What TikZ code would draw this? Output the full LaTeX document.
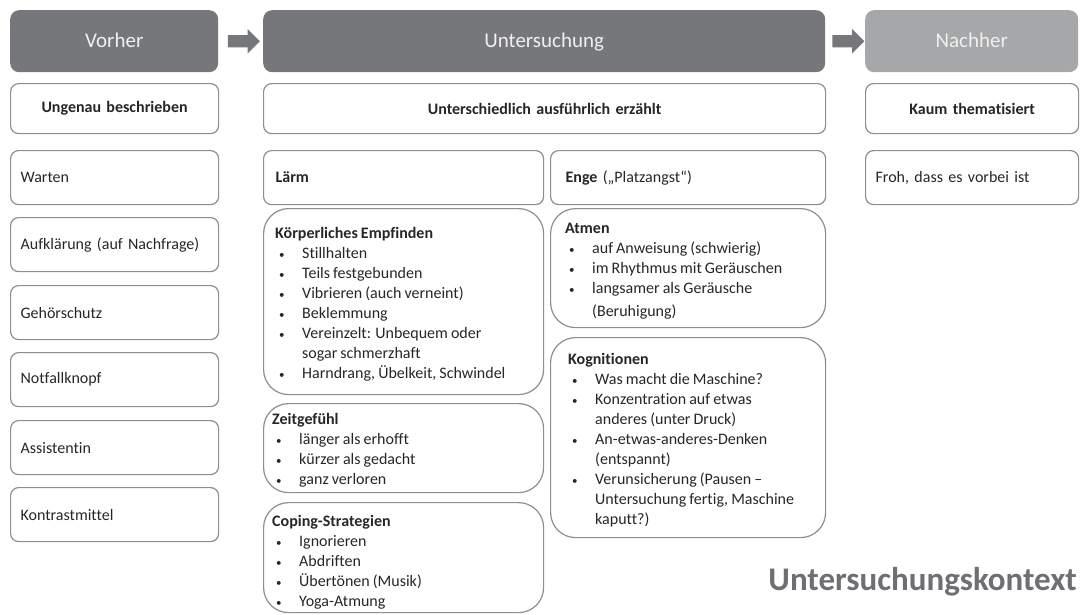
\documentclass[tikz,border=0pt]{standalone}
\usepackage{fontspec}
\setmainfont{Carlito}[Ligatures=NoCommon, WordSpace=0.85]
\usetikzlibrary{shapes.arrows,calc}

\definecolor{hdrdark}{HTML}{76777A}
\definecolor{hdrlight}{HTML}{A6A7A9}
\definecolor{rim}{HTML}{8E8E8E}
\definecolor{ink}{HTML}{262626}
\definecolor{kontext}{HTML}{6E6F72}

\newcommand{\bul}{\makebox[27pt][l]{\hspace{4pt}{\fontsize{11}{11}\selectfont\textbullet}}}
\newcommand{\bulgap}{\hspace*{27pt}}
\newcommand{\topstrut}{\rule{0pt}{14pt}}

\tikzset{
  hdr/.style={anchor=north west, fill=hdrdark, rounded corners=9pt, minimum height=62pt,
    text=white!88!gray, font=\fontsize{21}{25}\selectfont, inner sep=0pt, text height=14pt, text depth=0.5pt},
  cell/.style={anchor=north west, draw=rim, line width=1.2pt, rounded corners=8pt, text=ink,
    font=\fontsize{16}{20}\selectfont, inner xsep=10pt, inner ysep=0pt, align=left, text width=#1},
  headcell/.style={cell=#1, align=center, font=\bfseries\fontsize{16}{20}\selectfont, minimum height=50pt},
  lst/.style={anchor=north west, draw=rim, line width=1.2pt, rounded corners=25pt, inner sep=0pt},
  lsttxt/.style={anchor=north west, text=ink, font=\fontsize{16}{20}\selectfont, align=left, inner sep=0pt},
  pfeil/.style={single arrow, fill=hdrdark, draw=none, minimum height=32pt, inner sep=6pt,
    single arrow head extend=6pt}
}

\begin{document}
\begin{tikzpicture}[x=1pt,y=-1pt]
\useasboundingbox (0,0) rectangle (1089,614);
% header begin
\node[hdr, minimum width=208pt] (vorher) at (10,10) {Vorher};
\node[hdr, minimum width=562pt] (unters) at (263,10) {Untersuchung};
\node[hdr, minimum width=213pt, fill=hdrlight] (nachher) at (865,10) {Nachher};
\node[pfeil] (pfeila) at ($(vorher.east)!0.5!(unters.west)$) {};
\node[pfeil] (pfeilb) at ($(unters.east)!0.5!(nachher.west)$) {};
% header end
\node[headcell=188pt] (ungenau) at (10,83) {Ungenau beschrieben};
\node[headcell=542pt] (ausf) at (263,83) {Unterschiedlich ausführlich erzählt};
\node[headcell=193pt] (kaum) at (865,83) {Kaum thematisiert};
% vorher begin
\node[cell=188pt, minimum height=54pt] (warten) at (10,150) {Warten};
\node[cell=188pt, minimum height=54pt] (aufkl) at (10,217) {Aufklärung (auf Nachfrage)};
\node[cell=188pt, minimum height=54pt] (gehoer) at (10,285) {Gehörschutz};
\node[cell=188pt, minimum height=54pt] (notfall) at (10,352) {Notfallknopf};
\node[cell=188pt, minimum height=54pt] (assist) at (10,420) {Assistentin};
\node[cell=188pt, minimum height=54pt] (kontrast) at (10,487) {Kontrastmittel};
% vorher end
% untersuchung begin
\node[cell=256pt, minimum height=54pt, inner xsep=12pt] (laerm) at (263,150) {\textbf{Lärm}};
\node[cell=245pt, minimum height=54pt, inner xsep=15pt] (enge) at (550,150) {\textbf{Enge} („Platzangst“)};
\node[lst, minimum width=280pt, minimum height=186pt] (koerper) at (263,208) {};
\node[lsttxt] (koerpertxt) at ([shift={(12,16)}]koerper.north west) {\topstrut\textbf{Körperliches Empfinden}\\
  \bul Stillhalten\\
  \bul Teils festgebunden\\
  \bul Vibrieren (auch verneint)\\
  \bul Beklemmung\\
  \bul Vereinzelt: Unbequem oder\\
  \bulgap sogar schmerzhaft\\
  \bul Harndrang, Übelkeit, Schwindel};
\node[lst, minimum width=280pt, minimum height=89pt] (zeit) at (263,403) {};
\node[lsttxt] (zeittxt) at ([shift={(9,7)}]zeit.north west) {\topstrut\textbf{Zeitgefühl}\\
  \bul länger als erhofft\\
  \bul kürzer als gedacht\\
  \bul ganz verloren};
\node[lst, minimum width=280pt, minimum height=110pt] (coping) at (263,502) {};
\node[lsttxt] (copingtxt) at ([shift={(9,10)}]coping.north west) {\topstrut\textbf{Coping-Strategien}\\
  \bul Ignorieren\\
  \bul Abdriften\\
  \bul Übertönen (Musik)\\
  \bul Yoga-Atmung};
\node[lst, minimum width=275pt, minimum height=119pt] (atmen) at (550,208) {};
\node[lsttxt] (atmentxt) at ([shift={(15,11)}]atmen.north west) {\topstrut\textbf{Atmen}\\
  \bul auf Anweisung (schwierig)\\
  \bul im Rhythmus mit Geräuschen\\
  \bul langsamer als Geräusche\\[3pt]
  \bulgap (Beruhigung)};
\node[lst, minimum width=275pt, minimum height=200pt] (kogn) at (550,337) {};
\node[lsttxt] (kogntxt) at ([shift={(18,13)}]kogn.north west) {\topstrut\textbf{Kognitionen}\\
  \bul Was macht die Maschine?\\
  \bul Konzentration auf etwas\\
  \bulgap anderes (unter Druck)\\
  \bul An-etwas-anderes-Denken\\
  \bulgap (entspannt)\\
  \bul Verunsicherung (Pausen --\\
  \bulgap Untersuchung fertig, Maschine\\
  \bulgap kaputt?)};
% untersuchung end
\node[cell=193pt, minimum height=54pt] (froh) at (865,150) {Froh, dass es vorbei ist};
\node[anchor=east, text=kontext, font=\bfseries\fontsize{33}{39}\selectfont, inner sep=0pt] (kontext) at (1077,582) {Untersuchungskontext};
\end{tikzpicture}
\end{document}
